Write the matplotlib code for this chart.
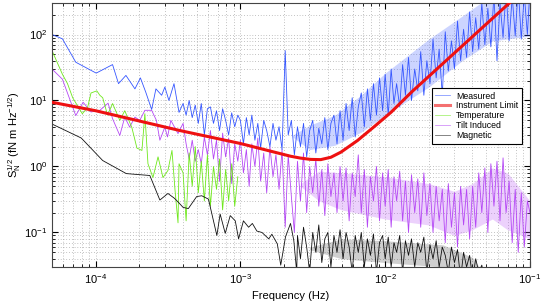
import matplotlib
matplotlib.use('Agg')
import matplotlib.pyplot as plt

plt.rcParams['font.family'] = ['Liberation Sans', 'DejaVu Sans']
plt.rcParams['mathtext.fontset'] = 'custom'
plt.rcParams['mathtext.rm'] = 'Liberation Sans'
plt.rcParams['mathtext.it'] = 'Liberation Sans:italic'
plt.rcParams['mathtext.bf'] = 'Liberation Sans:bold'

# frequency bins of the dense (high frequency) part, mantissas per decade
mant = [1.0, 1.05, 1.1, 1.15, 1.2, 1.26, 1.32, 1.38, 1.45, 1.52, 1.6, 1.68,
        1.76, 1.85, 1.94, 2.04, 2.14, 2.25, 2.36, 2.48, 2.6, 2.73, 2.87, 3.01,
        3.16, 3.32, 3.48, 3.65, 3.83, 4.02, 4.22, 4.43, 4.65, 4.88, 5.12, 5.37,
        5.64, 5.92, 6.21, 6.52, 6.84, 7.18, 7.54, 7.91, 8.3, 8.71, 9.14, 9.6]
f_dense = ([m * 1e-4 for m in mant[29:]] + [m * 1e-3 for m in mant]
           + [m * 1e-2 for m in mant] + [0.1])

# Measured
meas_f_low = [5.0e-5, 5.9e-5, 7.3e-5, 1.01e-4, 1.31e-4, 1.44e-4, 1.62e-4, 1.87e-4,
              2.04e-4, 2.22e-4, 2.44e-4, 2.61e-4, 2.86e-4, 3.01e-4, 3.21e-4, 3.48e-4, 3.77e-4]
meas_v_low = [100, 86, 38, 26, 35, 18, 24, 15, 22, 13.4, 7.3, 15, 12, 16, 10, 18, 6.6]
meas_v_e4 = [9, 6, 10, 5.5, 8.5, 4.5, 9, 3, 7.5, 8, 4.5, 7, 3.5, 7.5, 5, 3, 6.5, 4, 6]
meas_v_e3 = [5, 2.2, 5.5, 3, 6, 2.5, 4.5, 1.9, 5, 3.5, 2, 4.5, 2.5, 4, 1.8,
             57,
             3, 5, 1.5, 4, 2, 4.5, 1.4, 3.5, 5, 1.6, 3.8, 2.2, 5.5, 1.8, 4.5, 6, 2.2, 7,
             2.5, 9, 3.5, 11, 2.8, 8, 13, 4, 15, 5, 18, 6, 22, 7]
meas_v_e2 = [25, 6, 30, 9, 18, 8, 35, 12, 45, 10, 30, 14, 55, 12, 40, 18,
             85, 22, 60, 12, 110, 28, 80, 30, 160, 40, 120, 45, 220, 55, 180, 60,
             300, 70, 250, 65, 400, 40, 300, 90, 450, 80, 380, 95, 520, 85, 400, 100,
             500]
# edges of the dense measured band
meas_band_f = [2.3e-3, 3e-3, 4.5e-3, 6.8e-3, 1e-2, 2e-2, 3.4e-2, 5.5e-2, 0.1]
meas_band_lo = [2.8, 1.8, 2.1, 3.3, 6, 16, 40, 80, 95]
meas_band_hi = [3.0, 4.2, 6, 12, 26, 85, 190, 400, 550]

# Instrument limit
lim_f = [5e-5, 1e-4, 3.83e-4, 1e-3, 2.22e-3, 2.6e-3, 3.06e-3, 3.59e-3, 4.22e-3,
         4.95e-3, 6.45e-3, 8.43e-3, 1.10e-2, 1.52e-2, 7.11e-2, 0.1]
lim_v = [9.4, 7.0, 3.5, 2.23, 1.43, 1.34, 1.28, 1.27, 1.38, 1.65, 2.48, 4.04, 6.65,
         13.4, 292, 578]

# Temperature
temp_f_low = [5.0e-5, 5.9e-5, 6.4e-5, 6.95e-5, 8.1e-5, 8.8e-5, 9.3e-5, 1.02e-4, 1.07e-4,
              1.12e-4, 1.21e-4, 1.31e-4, 1.47e-4, 1.59e-4, 1.78e-4, 1.93e-4, 2.09e-4,
              2.19e-4, 2.30e-4, 2.49e-4, 2.70e-4, 2.92e-4, 3.16e-4, 3.37e-4, 3.54e-4,
              3.71e-4, 3.77e-4]
temp_v_low = [57, 25, 18, 11, 6.3, 7.8, 13, 14, 12, 11, 6, 9, 5, 7, 3.9, 1.9, 1.75,
              6.3, 1.1, 0.68, 1.4, 0.68, 0.87, 1.75, 0.43, 0.14, 1.1]
temp_v_e4 = [0.8, 0.15, 1.6, 0.5, 2.0, 0.4, 1.2, 0.3, 1.5, 0.25, 1.0, 0.45, 1.3, 0.22,
             0.9, 0.3, 1.1, 0.25, 0.7]

# Tilt induced
tilt_f_low = [5.0e-5, 5.9e-5, 7.3e-5, 8.2e-5, 9.3e-5, 1.07e-4, 1.22e-4, 1.31e-4, 1.47e-4,
              1.59e-4, 1.72e-4, 1.87e-4, 2.02e-4, 2.19e-4, 2.44e-4, 2.63e-4, 2.78e-4,
              3.01e-4, 3.14e-4, 3.31e-4, 3.71e-4]
tilt_v_low = [30, 21, 5.9, 9.4, 6.7, 7.1, 9.1, 5.3, 2.95, 5.6, 3.95, 5.6, 5.0, 7.1, 7.1,
              5.0, 2.5, 3.95, 2.8, 5, 3.15]
tilt_v_e4 = [4.5, 2.2, 1.3, 2.5, 1.2, 1.8, 1.1, 2.8, 1.5, 3.5, 1.3, 2.5, 0.6, 3.2, 1.4,
             2.7, 0.55, 2.2, 1.2]
tilt_v_e3 = [2.5, 0.8, 1.8, 0.5, 2.2, 1.0, 2.7, 0.6, 1.6, 0.4, 2.0, 0.7, 1.5, 0.45, 1.8,
             0.12, 1.5, 0.35, 0.1, 1.2, 0.3, 1.6, 0.2, 1.0, 0.4, 1.3, 0.25, 0.9, 0.18,
             1.1, 0.35, 0.8, 0.2, 1.0,
             0.3, 0.95, 0.15, 0.8, 0.35, 1.5, 0.2, 0.9, 0.12, 0.7, 0.3, 1.0, 0.15, 0.8]
tilt_v_e2 = [0.25, 0.9, 0.12, 0.7, 0.3, 0.85, 0.15, 0.6, 0.1, 0.75, 0.2, 0.65, 0.12, 0.8,
             0.18, 0.55,
             0.1, 0.5, 0.15, 0.45, 0.07, 0.55, 0.12, 0.4, 0.06, 0.5, 0.13, 0.45, 0.08,
             0.5, 0.12, 0.8, 0.2, 0.95, 0.1, 1.1, 0.25, 1.2, 0.15, 1.35, 0.2,
             0.6, 0.07, 0.45, 0.05, 0.4, 0.06, 0.3,
             0.2]
tilt_band_f = [2.6e-3, 3.5e-3, 5e-3, 1e-2, 2e-2, 3e-2, 4e-2, 5.5e-2, 7e-2, 0.1]
tilt_band_lo = [0.5, 0.3, 0.22, 0.16, 0.13, 0.09, 0.11, 0.16, 0.11, 0.08]
tilt_band_hi = [0.55, 0.85, 0.8, 0.7, 0.55, 0.42, 0.55, 0.95, 0.8, 0.3]

# Magnetic
mag_f_low = [5.0e-5, 7.96e-5, 1.12e-4, 1.63e-4, 2.37e-4, 2.78e-4, 3.16e-4, 3.5e-4, 3.77e-4,
             4.02e-4, 4.37e-4, 4.99e-4, 5.41e-4, 6.02e-4, 6.88e-4, 7.25e-4, 7.86e-4,
             8.51e-4, 9.22e-4, 9.72e-4, 1.05e-3, 1.14e-3, 1.21e-3, 1.30e-3, 1.41e-3,
             1.57e-3, 1.65e-3, 1.80e-3, 1.90e-3, 2.05e-3, 2.22e-3, 2.34e-3, 2.45e-3]
mag_v_low = [4.4, 2.7, 1.23, 0.78, 0.73, 0.31, 0.39, 0.33, 0.28, 0.24, 0.23, 0.35, 0.36,
             0.32, 0.09, 0.19, 0.097, 0.18, 0.15, 0.08, 0.15, 0.12, 0.137, 0.105, 0.1,
             0.08, 0.094, 0.067, 0.032, 0.086, 0.137, 0.075, 0.025]
mag_v_dense = [0.09, 0.04, 0.12, 0.06, 0.025, 0.1, 0.05, 0.13, 0.035, 0.08, 0.1, 0.03,
               0.09, 0.05, 0.11,
               0.04, 0.1, 0.06, 0.025, 0.09, 0.05, 0.1, 0.03, 0.08, 0.045, 0.095, 0.025,
               0.07, 0.09,
               0.04, 0.085, 0.03, 0.07, 0.05, 0.09, 0.025, 0.075, 0.045, 0.08, 0.03,
               0.07, 0.05, 0.085, 0.025, 0.065, 0.04, 0.075, 0.03, 0.06, 0.045,
               0.025, 0.06, 0.035, 0.055, 0.02, 0.05, 0.03, 0.045, 0.02, 0.04, 0.025,
               0.032, 0.018,
               0.015, 0.02, 0.012, 0.018, 0.01, 0.015, 0.01, 0.012, 0.009, 0.011, 0.008,
               0.01, 0.008, 0.009,
               0.008]
mag_band_f = [3e-3, 5e-3, 1e-2, 2.5e-2, 4e-2, 5e-2]
mag_band_lo = [0.055, 0.04, 0.035, 0.03, 0.025, 0.02]
mag_band_hi = [0.06, 0.08, 0.075, 0.065, 0.042, 0.021]

meas_f = meas_f_low + f_dense
meas_v = meas_v_low + meas_v_e4 + meas_v_e3 + meas_v_e2
temp_f = temp_f_low + f_dense[:len(temp_v_e4)]
temp_v = temp_v_low + temp_v_e4
tilt_f = tilt_f_low + f_dense
tilt_v = tilt_v_low + tilt_v_e4 + tilt_v_e3 + tilt_v_e2
mag_f = mag_f_low + f_dense[-len(mag_v_dense):]
mag_v = mag_v_low + mag_v_dense

c_meas, c_lim, c_temp, c_tilt, c_mag = '#3556ff', '#ee1111', '#6fe81c', '#b548f5', '#111111'

fig = plt.figure(figsize=(5.45, 3.02), dpi=100)
ax = fig.add_axes([0.0954, 0.116, 0.877, 0.874])

ax.fill_between(tilt_band_f, tilt_band_lo, tilt_band_hi, color=c_tilt, alpha=0.25, lw=0, zorder=1.9)
ax.fill_between(mag_band_f, mag_band_lo, mag_band_hi, color=c_mag, alpha=0.2, lw=0, zorder=1.9)
ax.fill_between(meas_band_f, meas_band_lo, meas_band_hi, color=c_meas, alpha=0.25, lw=0, zorder=2.4)

ax.loglog(meas_f, meas_v, color=c_meas, lw=0.6, label='Measured', zorder=2.5)
ax.loglog(lim_f, lim_v, color=c_lim, lw=2.2, label='Instrument Limit', zorder=3)
ax.loglog(temp_f, temp_v, color=c_temp, lw=0.6, label='Temperature', zorder=2.2)
ax.loglog(tilt_f, tilt_v, color=c_tilt, lw=0.6, label='Tilt Induced', zorder=2.0)
ax.loglog(mag_f, mag_v, color=c_mag, lw=0.6, label='Magnetic', zorder=2.3)

ax.set_xlim(5e-5, 0.1)
ax.set_ylim(0.03, 300)
ax.grid(True, which='both', linestyle=(0, (1, 3)), color='#8a8a8a', linewidth=0.5)
ax.tick_params(which='both', direction='in', top=True, right=True, labelsize=8)
ax.tick_params(which='major', length=4)
ax.tick_params(which='minor', length=2)
for s in ax.spines.values():
    s.set_color('#444444')
    s.set_linewidth(0.8)

ax.set_xlabel('Frequency (Hz)', fontsize=8, labelpad=4)
ax.set_ylabel(r'$\mathregular{S_N^{1/2}}$ (fN m Hz$^{\mathregular{-1/2}}$)', fontsize=8, labelpad=1)

leg = ax.legend(loc='upper right', bbox_to_anchor=(0.983, 0.678), fontsize=6.3,
                frameon=True, fancybox=False, borderaxespad=0, handlelength=1.7,
                labelspacing=0.1, borderpad=0.4, handletextpad=0.7, framealpha=1)
leg.get_frame().set_edgecolor('black')
leg.get_frame().set_linewidth(0.8)
for h in leg.get_lines():
    h.set_alpha(0.6)

fig.savefig('out.png', dpi=100)
